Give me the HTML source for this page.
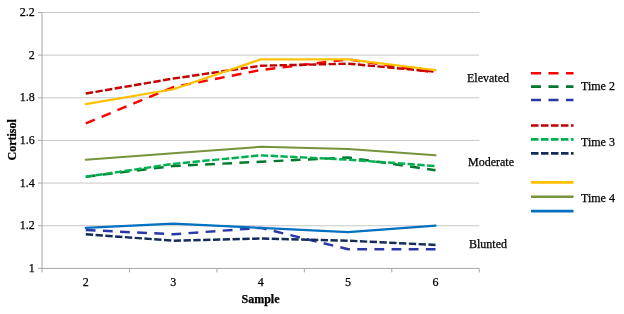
<!DOCTYPE html><html><head><meta charset="utf-8"><style>html,body{margin:0;padding:0;background:#fff;width:624px;height:314px;overflow:hidden}svg{display:block;will-change:transform}text{font-family:"Liberation Serif",serif;fill:#000;stroke:#000;stroke-width:0.25px}</style></head><body>
<svg width="624" height="314" viewBox="0 0 624 314">
<rect width="624" height="314" fill="#fff"/>
<line x1="38" y1="268.40" x2="42.05" y2="268.40" stroke="#a6a6a6" stroke-width="1"/>
<text x="34.7" y="272.00" font-size="12" text-anchor="end">1</text>
<line x1="42.05" y1="225.74" x2="479.25" y2="225.74" stroke="#c8c8c8" stroke-width="1"/>
<line x1="38" y1="225.74" x2="42.05" y2="225.74" stroke="#a6a6a6" stroke-width="1"/>
<text x="34.7" y="229.34" font-size="12" text-anchor="end">1.2</text>
<line x1="42.05" y1="183.09" x2="479.25" y2="183.09" stroke="#c8c8c8" stroke-width="1"/>
<line x1="38" y1="183.09" x2="42.05" y2="183.09" stroke="#a6a6a6" stroke-width="1"/>
<text x="34.7" y="186.69" font-size="12" text-anchor="end">1.4</text>
<line x1="42.05" y1="140.43" x2="479.25" y2="140.43" stroke="#c8c8c8" stroke-width="1"/>
<line x1="38" y1="140.43" x2="42.05" y2="140.43" stroke="#a6a6a6" stroke-width="1"/>
<text x="34.7" y="144.03" font-size="12" text-anchor="end">1.6</text>
<line x1="42.05" y1="97.77" x2="479.25" y2="97.77" stroke="#c8c8c8" stroke-width="1"/>
<line x1="38" y1="97.77" x2="42.05" y2="97.77" stroke="#a6a6a6" stroke-width="1"/>
<text x="34.7" y="101.37" font-size="12" text-anchor="end">1.8</text>
<line x1="42.05" y1="55.12" x2="479.25" y2="55.12" stroke="#c8c8c8" stroke-width="1"/>
<line x1="38" y1="55.12" x2="42.05" y2="55.12" stroke="#a6a6a6" stroke-width="1"/>
<text x="34.7" y="58.72" font-size="12" text-anchor="end">2</text>
<line x1="42.05" y1="12.46" x2="479.25" y2="12.46" stroke="#c8c8c8" stroke-width="1"/>
<line x1="38" y1="12.46" x2="42.05" y2="12.46" stroke="#a6a6a6" stroke-width="1"/>
<text x="34.7" y="16.06" font-size="12" text-anchor="end">2.2</text>
<line x1="42.05" y1="12.46" x2="42.05" y2="268.9" stroke="#a6a6a6" stroke-width="1"/>
<line x1="41.55" y1="268.4" x2="479.25" y2="268.4" stroke="#a6a6a6" stroke-width="1"/>
<line x1="42.05" y1="268.4" x2="42.05" y2="272.4" stroke="#a6a6a6" stroke-width="1"/>
<line x1="129.49" y1="268.4" x2="129.49" y2="272.4" stroke="#a6a6a6" stroke-width="1"/>
<line x1="216.93" y1="268.4" x2="216.93" y2="272.4" stroke="#a6a6a6" stroke-width="1"/>
<line x1="304.37" y1="268.4" x2="304.37" y2="272.4" stroke="#a6a6a6" stroke-width="1"/>
<line x1="391.81" y1="268.4" x2="391.81" y2="272.4" stroke="#a6a6a6" stroke-width="1"/>
<line x1="479.25" y1="268.4" x2="479.25" y2="272.4" stroke="#a6a6a6" stroke-width="1"/>
<text x="85.77" y="286.3" font-size="12" text-anchor="middle">2</text>
<text x="173.21" y="286.3" font-size="12" text-anchor="middle">3</text>
<text x="260.65" y="286.3" font-size="12" text-anchor="middle">4</text>
<text x="348.09" y="286.3" font-size="12" text-anchor="middle">5</text>
<text x="435.53" y="286.3" font-size="12" text-anchor="middle">6</text>
<text x="260.5" y="303.3" font-size="12" font-weight="bold" text-anchor="middle">Sample</text>
<text transform="translate(16.2,139.8) rotate(-90)" x="0" y="0" font-size="12" font-weight="bold" text-anchor="middle">Cortisol</text>
<polyline points="85.77,123.37 173.21,87.11 260.65,70.05 348.09,59.38 435.53,72.61" fill="none" stroke="#ff0000" stroke-width="2.45" stroke-linejoin="round" stroke-linecap="butt" stroke-dasharray="9.8,7.35"/>
<polyline points="85.77,176.69 173.21,166.02 260.65,161.76 348.09,157.49 435.53,170.29" fill="none" stroke="#00782d" stroke-width="2.45" stroke-linejoin="round" stroke-linecap="butt" stroke-dasharray="9.8,7.35"/>
<polyline points="85.77,230.01 173.21,234.27 260.65,227.88 348.09,249.20 435.53,249.20" fill="none" stroke="#2838a8" stroke-width="2.45" stroke-linejoin="round" stroke-linecap="butt" stroke-dasharray="9.8,7.35"/>
<polyline points="85.77,93.51 173.21,78.58 260.65,65.78 348.09,63.65 435.53,71.75" fill="none" stroke="#c00000" stroke-width="2.45" stroke-linejoin="round" stroke-linecap="butt" stroke-dasharray="7.35,2.45"/>
<polyline points="85.77,176.69 173.21,163.89 260.65,155.36 348.09,159.63 435.53,166.02" fill="none" stroke="#00b050" stroke-width="2.45" stroke-linejoin="round" stroke-linecap="butt" stroke-dasharray="7.35,2.45"/>
<polyline points="85.77,234.27 173.21,240.67 260.65,238.54 348.09,240.67 435.53,244.94" fill="none" stroke="#142c5a" stroke-width="2.45" stroke-linejoin="round" stroke-linecap="butt" stroke-dasharray="7.35,2.45"/>
<polyline points="85.77,104.17 173.21,89.24 260.65,59.38 348.09,59.38 435.53,70.05" fill="none" stroke="#ffc000" stroke-width="2.25" stroke-linejoin="round" stroke-linecap="round"/>
<polyline points="85.77,159.63 173.21,153.23 260.65,146.83 348.09,148.96 435.53,155.36" fill="none" stroke="#77933c" stroke-width="2.0" stroke-linejoin="round" stroke-linecap="round"/>
<polyline points="85.77,227.88 173.21,223.61 260.65,227.88 348.09,232.14 435.53,225.74" fill="none" stroke="#0070c0" stroke-width="2.25" stroke-linejoin="round" stroke-linecap="round"/>
<text x="467" y="81.7" font-size="12">Elevated</text>
<text x="468" y="165.8" font-size="12">Moderate</text>
<text x="469" y="248.1" font-size="12">Blunted</text>
<line x1="531" y1="73.3" x2="573.5" y2="73.3" stroke="#ff0000" stroke-width="2.6" stroke-dasharray="10,7.5"/>
<line x1="531" y1="86.6" x2="573.5" y2="86.6" stroke="#00782d" stroke-width="2.6" stroke-dasharray="10,7.5"/>
<line x1="531" y1="100.0" x2="573.5" y2="100.0" stroke="#2838a8" stroke-width="2.6" stroke-dasharray="10,7.5"/>
<line x1="531" y1="125.5" x2="573.5" y2="125.5" stroke="#c00000" stroke-width="2.6" stroke-dasharray="7.5,2.5"/>
<line x1="531" y1="139.4" x2="573.5" y2="139.4" stroke="#00b050" stroke-width="2.6" stroke-dasharray="7.5,2.5"/>
<line x1="531" y1="153.4" x2="573.5" y2="153.4" stroke="#142c5a" stroke-width="2.6" stroke-dasharray="7.5,2.5"/>
<line x1="531" y1="182.4" x2="573.5" y2="182.4" stroke="#ffc000" stroke-width="2.6"/>
<line x1="531" y1="196.8" x2="573.5" y2="196.8" stroke="#77933c" stroke-width="2.6"/>
<line x1="531" y1="211.1" x2="573.5" y2="211.1" stroke="#0070c0" stroke-width="2.6"/>
<text x="581" y="90.1" font-size="12">Time 2</text>
<text x="581" y="145.7" font-size="12">Time 3</text>
<text x="581" y="201.7" font-size="12">Time 4</text>
</svg></body></html>
